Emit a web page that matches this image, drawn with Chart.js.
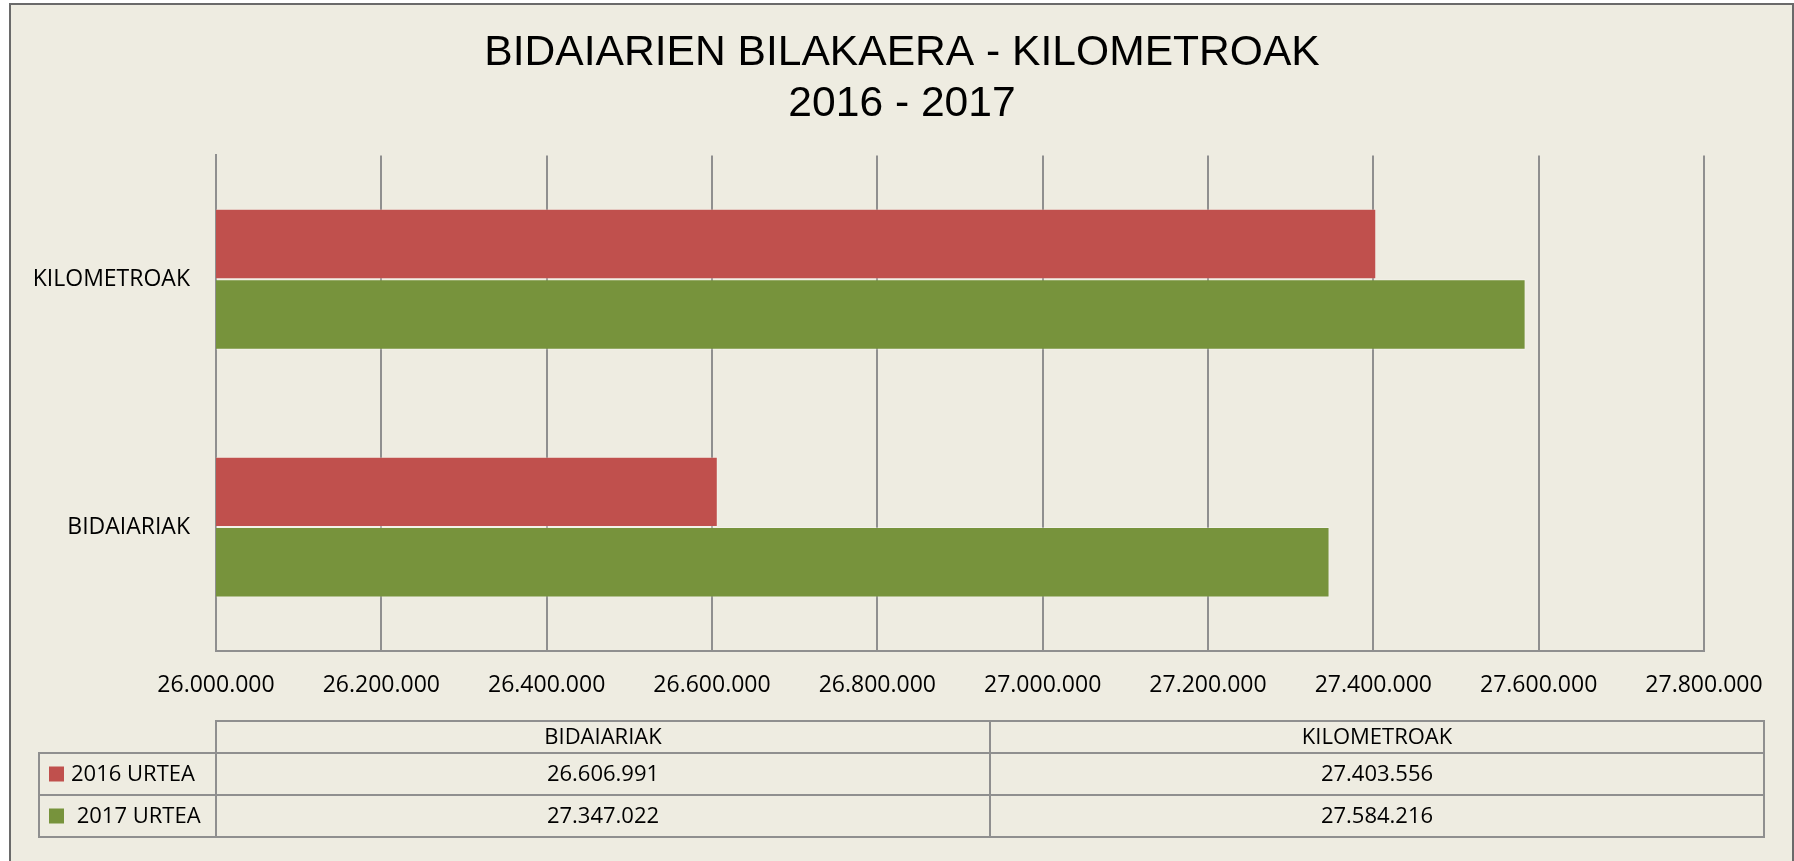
<!DOCTYPE html>
<html>
<head>
<meta charset="utf-8">
<script src="https://cdn.jsdelivr.net/npm/chart.js@4"></script>
<style>
  html, body { margin: 0; padding: 0; background: #ffffff; overflow: hidden; }
  #frame {
    position: absolute; left: 9px; top: 3px; width: 1785px; height: 900px;
    box-sizing: border-box; border: 2px solid #6a6a6a; background: #EEECE1;
  }
  #myChart { position: absolute; left: 0; top: 0; }
</style>
</head>
<body>
<div id="frame"></div>
<canvas id="myChart" width="1794" height="861"></canvas>
<script>
  const categories = ['BIDAIARIAK', 'KILOMETROAK'];
  const seriesNames = ['2016 URTEA', ' 2017 URTEA'];
  const values2016 = [26606991, 27403556];
  const values2017 = [27347022, 27584216];
  const axisMin = 26000000;
  const axisMax = 27800000;
  const axisStep = 200000;

  const red = '#C0504D';
  const green = '#77933C';
  const lineGray = '#8f8f8f';

  // 26000000 -> 26.000.000
  const fmt = v => String(Math.round(v)).replace(/\B(?=(\d{3})+(?!\d))/g, '.');

  Chart.defaults.font.family = "'Open Sans', sans-serif";
  Chart.defaults.font.size = 23;
  Chart.defaults.color = '#000';

  // Excel style data table under the axis
  const dataTable = {
    id: 'dataTable',
    afterDraw(chart) {
      const ctx = chart.ctx;
      const area = chart.chartArea;
      const left = area.left;
      const right = chart.width - 30;
      const legendLeft = 39;
      const headTop = area.bottom + 70;
      const headH = 32;
      const rowH = 42;
      const colW = (right - left) / categories.length;
      const rows = [values2016, values2017];
      const colors = [red, green];

      ctx.save();
      ctx.strokeStyle = lineGray;
      ctx.lineWidth = 2;
      // header box
      ctx.strokeRect(left, headTop, right - left, headH);
      // rows
      rows.forEach((r, i) => {
        const y = headTop + headH + i * rowH;
        ctx.strokeRect(legendLeft, y, right - legendLeft, rowH);
      });
      // column dividers
      ctx.beginPath();
      ctx.moveTo(left, headTop + headH);
      ctx.lineTo(left, headTop + headH + rows.length * rowH);
      for (let c = 1; c < categories.length; c++) {
        const x = left + c * colW;
        ctx.moveTo(x, headTop);
        ctx.lineTo(x, headTop + headH + rows.length * rowH);
      }
      ctx.stroke();

      ctx.font = "22px 'Open Sans', sans-serif";
      ctx.fillStyle = '#000';
      ctx.textBaseline = 'middle';
      ctx.textAlign = 'center';
      categories.forEach((c, i) => {
        ctx.fillText(c, left + colW * (i + 0.5), headTop + headH / 2 + 1);
      });
      rows.forEach((r, i) => {
        const cy = headTop + headH + i * rowH + rowH / 2;
        ctx.textAlign = 'center';
        ctx.fillStyle = '#000';
        r.forEach((v, j) => {
          ctx.fillText(fmt(v), left + colW * (j + 0.5), cy + 1);
        });
        ctx.fillStyle = colors[i];
        ctx.fillRect(legendLeft + 10, cy - 7.5, 15, 15);
        ctx.fillStyle = '#000';
        ctx.textAlign = 'left';
        ctx.fillText(seriesNames[i], legendLeft + 32, cy + 1);
      });
      ctx.restore();
    }
  };

  const data = {
    labels: categories,
    datasets: [{
      label: seriesNames[0],
      data: values2016,
      backgroundColor: red,
      borderColor: 'rgba(255,255,255,0.3)',
      borderWidth: 1
    }, {
      label: seriesNames[1],
      data: values2017,
      backgroundColor: green,
      borderColor: 'rgba(255,255,255,0.3)',
      borderWidth: 1
    }]
  };

  const config = {
    type: 'bar',
    data: data,
    options: {
      indexAxis: 'y',
      responsive: false,
      animation: false,
      devicePixelRatio: 1,
      layout: { padding: { left: 15, right: 5, top: 0, bottom: 150 } },
      datasets: { bar: { categoryPercentage: 0.5685, barPercentage: 1 } },
      plugins: {
        legend: { display: false },
        tooltip: { enabled: false },
        title: {
          display: true,
          text: ['BIDAIARIEN BILAKAERA - KILOMETROAK', '2016 - 2017'],
          color: '#000',
          font: { family: "'Liberation Sans', Arial, sans-serif", size: 42.6, weight: 'normal', lineHeight: 1.19 },
          padding: { top: 28, bottom: 26 }
        }
      },
      scales: {
        x: {
          min: axisMin,
          max: axisMax,
          ticks: { stepSize: axisStep, padding: 21, callback: v => fmt(v), maxRotation: 0 },
          grid: { color: lineGray, lineWidth: 2, drawTicks: false },
          border: { color: lineGray, width: 2 },
          afterFit: s => { s.height = 60; }
        },
        y: {
          reverse: true,
          ticks: { padding: 26 },
          grid: { display: false, drawTicks: false },
          border: { color: lineGray, width: 2 },
          afterFit: s => { s.width = 201; }
        },
        // empty right-hand axis, only keeps room beside the plot
        yRight: {
          type: 'category',
          axis: 'y',
          position: 'right',
          ticks: { display: false },
          grid: { display: false, drawTicks: false },
          border: { display: false },
          afterFit: s => { s.width = 85; }
        }
      }
    },
    plugins: [dataTable]
  };

  const myChart = new Chart(document.getElementById('myChart'), config);
</script>
</body>
</html>
